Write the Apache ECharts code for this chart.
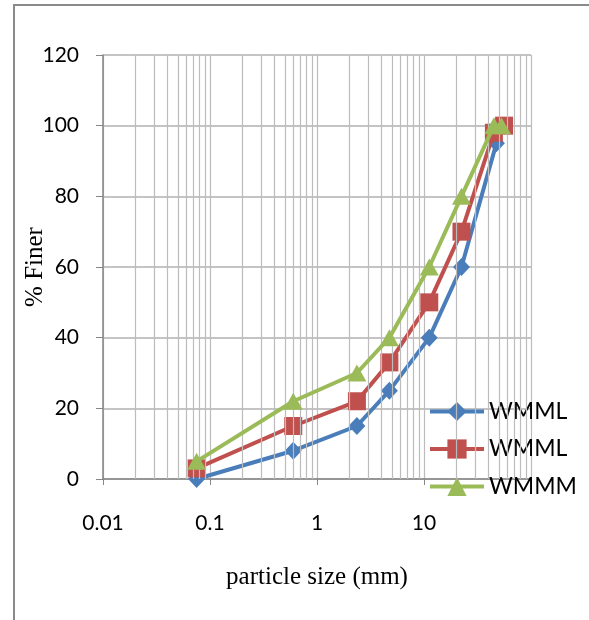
<!DOCTYPE html>
<html>
<head>
<meta charset="utf-8">
<script src="https://cdn.jsdelivr.net/npm/echarts@6/dist/echarts.min.js"></script>
<style>
  html, body { margin: 0; padding: 0; background: #fff; }
  #main { width: 589px; height: 620px; }
</style>
</head>
<body>
<div id="main"></div>
<script>
// sieve sizes (mm) and % finer for each mix
const sizesA = [0.075, 0.6, 2.36, 4.75, 11.2, 22.4, 47.5];
const finerA = [0, 8, 15, 25, 40, 60, 95];
const sizesB = [0.075, 0.6, 2.36, 4.75, 11.2, 22.4, 45, 56];
const finerB = [3, 15, 22, 33, 50, 70, 98, 100];
const sizesC = [0.075, 0.6, 2.36, 4.75, 11.2, 22.4, 45, 53];
const finerC = [5, 22, 30, 40, 60, 80, 100, 100];
const seriesNames = ['WMML', 'WMML ', 'WMMM'];
const yTicks = [0, 20, 40, 60, 80, 100, 120];

// minor vertical gridlines 2..9 in each decade
const decades = [0.01, 0.1, 1, 10];
const minorGrid = [];
decades.forEach(d => { for (let k = 2; k <= 9; k++) minorGrid.push(+(d * k).toPrecision(3)); });

const pairs = (xs, ys) => xs.map((x, i) => [x, ys[i]]);

let chart = echarts.init(document.getElementById('main'));
const labelFont = 'Lato, "Liberation Sans", sans-serif';
const titleFont = '"Liberation Serif", "DejaVu Serif", serif';

chart.setOption({
  animation: false,
  grid: { left: 103, right: 58, top: 55, bottom: 141, containLabel: false },
  graphic: [{
    type: 'polyline',
    shape: { points: [[14, 620], [14, 5], [589, 5]] },
    style: { stroke: '#8a8a8a', lineWidth: 2, fill: null },
    silent: true
  }],
  legend: {
    left: 428, top: 400,
    orient: 'vertical',
    itemWidth: 54, itemHeight: 24, itemGap: 14.5,
    padding: 0,
    formatter: n => n.trim(),
    lineStyle: { width: 4 },
    textStyle: { fontFamily: labelFont, fontSize: 23, color: '#000' },
    data: seriesNames
  },
  xAxis: {
    type: 'log', logBase: 10, min: 0.01, max: 100,
    name: 'particle size (mm)', nameLocation: 'middle', nameGap: 86,
    nameTextStyle: { fontFamily: titleFont, fontSize: 25, color: '#000' },
    axisLine: { lineStyle: { color: '#868686', width: 1.5 } },
    axisTick: { show: true, length: 6, lineStyle: { color: '#868686' } },
    axisLabel: { fontFamily: labelFont, fontSize: 21, color: '#000', margin: 34, showMaxLabel: false },
    splitLine: { show: true, lineStyle: { color: '#bcbcbc', width: 1.2 } },
    minorTick: { show: false }
  },
  yAxis: {
    type: 'value', min: 0, max: 120, interval: 20,
    name: '% Finer', nameLocation: 'middle', nameGap: 55, nameMoveOverlap: false,
    nameTextStyle: { fontFamily: titleFont, fontSize: 25, color: '#000' },
    axisLine: { show: true, lineStyle: { color: '#868686', width: 1.5 } },
    axisTick: { show: true, length: 7, lineStyle: { color: '#868686' } },
    axisLabel: { fontFamily: labelFont, fontSize: 21, color: '#000', margin: 24,
      formatter: v => yTicks.includes(v) ? String(v) : '' },
    splitLine: { show: true, lineStyle: { color: '#b0b0b0', width: 1.5 } }
  },
  series: [
    {
      name: 'grid-minor', type: 'line', data: [], z: 1, silent: true,
      markLine: {
        silent: true, symbol: ['none', 'none'], label: { show: false },
        lineStyle: { color: '#bcbcbc', width: 1.2, type: 'solid' },
        emphasis: { disabled: true },
        data: minorGrid.map(v => ({ xAxis: v }))
      }
    },
    {
      name: seriesNames[0], type: 'line', z: 3,
      data: pairs(sizesA, finerA),
      symbol: 'diamond', symbolSize: [17, 18],
      lineStyle: { color: '#4a7ebb', width: 4 },
      itemStyle: { color: '#4a7ebb' }
    },
    {
      name: seriesNames[1], type: 'line', z: 4,
      data: pairs(sizesB, finerB),
      symbol: 'rect', symbolSize: 18,
      lineStyle: { color: '#c0504d', width: 4 },
      itemStyle: { color: '#c0504d' }
    },
    {
      name: seriesNames[2], type: 'line', z: 5,
      data: pairs(sizesC, finerC),
      symbol: 'triangle', symbolSize: [19, 17],
      lineStyle: { color: '#9bbb59', width: 4 },
      itemStyle: { color: '#9bbb59' }
    }
  ]
});
</script>
</body>
</html>
